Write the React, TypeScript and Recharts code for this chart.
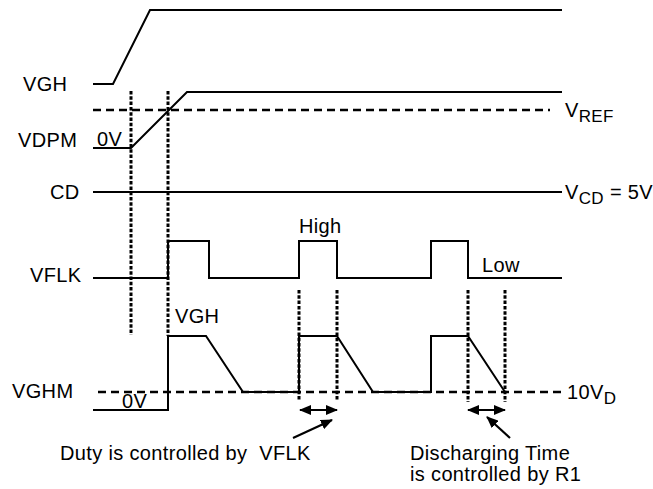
import { LineChart, Line, XAxis, YAxis } from "recharts";

// waveform vertices: t = time position, v = level (screen units, top = 0)
const vghWave = [
  { t: 93, v: 84 },
  { t: 113, v: 84 },
  { t: 150, v: 10 },
  { t: 562, v: 10 },
];
const vdpmWave = [
  { t: 93, v: 148 },
  { t: 131, v: 148 },
  { t: 187, v: 92 },
  { t: 562, v: 92 },
];
const vrefLevel = [
  { t: 93, v: 110 },
  { t: 550, v: 110 },
];
const cdWave = [
  { t: 93, v: 192 },
  { t: 562, v: 192 },
];
const vflkWave = [
  { t: 93, v: 278 },
  { t: 168, v: 278 },
  { t: 168, v: 241 },
  { t: 209, v: 241 },
  { t: 209, v: 278 },
  { t: 299, v: 278 },
  { t: 299, v: 241 },
  { t: 337, v: 241 },
  { t: 337, v: 278 },
  { t: 431, v: 278 },
  { t: 431, v: 241 },
  { t: 468, v: 241 },
  { t: 468, v: 278 },
  { t: 562, v: 278 },
];
const vghmWave = [
  { t: 93, v: 410 },
  { t: 168, v: 410 },
  { t: 168, v: 336 },
  { t: 206, v: 336 },
  { t: 243, v: 392 },
  { t: 299, v: 392 },
  { t: 299, v: 336 },
  { t: 337, v: 336 },
  { t: 373, v: 392 },
  { t: 431, v: 392 },
  { t: 431, v: 336 },
  { t: 468, v: 336 },
  { t: 505, v: 392 },
];
const vdLevel = [
  { t: 98, v: 392 },
  { t: 562, v: 392 },
];

// dotted timing markers
const markers = [
  [{ t: 131, v: 91 }, { t: 131, v: 335 }],
  [{ t: 168, v: 91 }, { t: 168, v: 336 }],
  [{ t: 299, v: 290 }, { t: 299, v: 400 }],
  [{ t: 337, v: 290 }, { t: 337, v: 400 }],
  [{ t: 468, v: 290 }, { t: 468, v: 402 }],
  [{ t: 505, v: 290 }, { t: 505, v: 402 }],
];

// double-headed span arrows and pointer arrows
const spans = [
  [{ t: 300, v: 410 }, { t: 337, v: 410 }],
  [{ t: 468, v: 410 }, { t: 505, v: 410 }],
];
const pointers = [
  [{ t: 293, v: 438 }, { t: 332, v: 420 }],
  [{ t: 510, v: 438 }, { t: 487, v: 417 }],
];

const FONT = "'Liberation Sans', Arial, sans-serif";
const ink = "#000";

export default function App() {
  const txt = {
    fontFamily: FONT,
    fontSize: 20,
    letterSpacing: 0.35,
    fill: ink,
    style: { whiteSpace: "pre" as const },
  };
  const common = {
    dataKey: "v",
    type: "linear" as const,
    stroke: ink,
    dot: false,
    activeDot: false,
    isAnimationActive: false,
  };
  return (
    <div style={{ position: "absolute", left: 0, top: 0, background: "#fff" }}>
      <LineChart width={653} height={489} margin={{ top: 0, right: 0, bottom: 0, left: 0 }}>
        <defs>
          <marker
            id="head"
            viewBox="0 0 12 10"
            refX="11"
            refY="5"
            markerWidth="12"
            markerHeight="10"
            markerUnits="userSpaceOnUse"
            orient="auto-start-reverse"
          >
            <path d="M0,0 L12,5 L0,10 z" fill={ink} />
          </marker>
        </defs>
        <XAxis type="number" dataKey="t" domain={[0, 653]} hide allowDataOverflow />
        <YAxis type="number" dataKey="v" domain={[0, 489]} reversed hide allowDataOverflow />

        {[vghWave, vdpmWave, cdWave, vflkWave, vghmWave].map((d, i) => (
          <Line key={"w" + i} data={d} {...common} strokeWidth={2} />
        ))}
        {[vrefLevel, vdLevel].map((d, i) => (
          <Line key={"r" + i} data={d} {...common} strokeWidth={2.5} strokeDasharray="8 5" />
        ))}
        {markers.map((d, i) => (
          <Line key={"m" + i} data={d} {...common} strokeWidth={3} strokeDasharray="3.5 1.8" />
        ))}
        {spans.map((d, i) => (
          <Line
            key={"s" + i}
            data={d}
            {...common}
            strokeWidth={2}
            markerStart="url(#head)"
            markerEnd="url(#head)"
          />
        ))}
        {pointers.map((d, i) => (
          <Line key={"p" + i} data={d} {...common} strokeWidth={2.2} markerEnd="url(#head)" />
        ))}

        <g>
          <text x={23} y={91} {...txt}>VGH</text>
          <text x={18} y={147} {...txt}>VDPM</text>
          <text x={97} y={146} {...txt}>0V</text>
          <text x={50} y={199} {...txt}>CD</text>
          <text x={30} y={282} {...txt}>VFLK</text>
          <text x={12} y={398} {...txt}>VGHM</text>
          <text x={122} y={408} {...txt}>0V</text>
          <text x={175} y={323} {...txt}>VGH</text>
          <text x={299} y={233} {...txt}>High</text>
          <text x={482} y={272} {...txt}>Low</text>
          <text x={565} y={117} {...txt}>
            V<tspan fontSize={17} dy={5}>REF</tspan>
          </text>
          <text x={565} y={199} {...txt}>
            V<tspan fontSize={17} dy={5}>CD</tspan>
            <tspan dy={-5}> = 5V</tspan>
          </text>
          <text x={567} y={399} {...txt}>
            10V<tspan fontSize={17} dy={5}>D</tspan>
          </text>
          <text x={60} y={460} {...txt}>Duty is controlled by  VFLK</text>
          <text x={410} y={460} {...txt}>Discharging Time</text>
          <text x={410} y={481} {...txt}>is controlled by R1</text>
        </g>
      </LineChart>
    </div>
  );
}
